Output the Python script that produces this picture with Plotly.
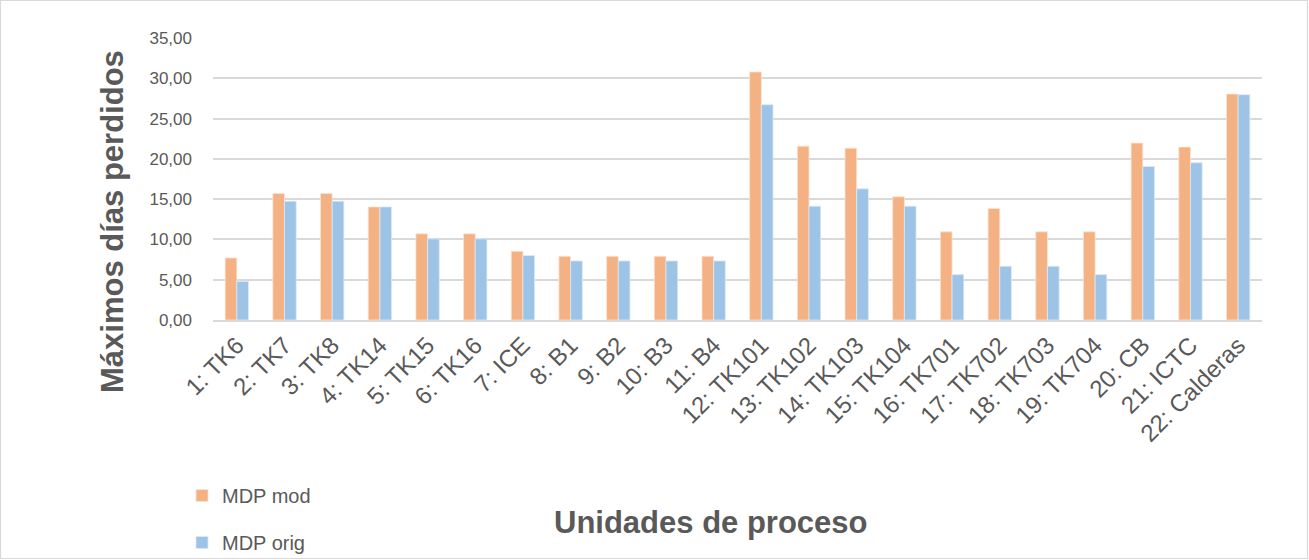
import plotly.graph_objects as go

categories = ["1: TK6", "2: TK7", "3: TK8", "4: TK14", "5: TK15", "6: TK16", "7: ICE",
              "8: B1", "9: B2", "10: B3", "11: B4", "12: TK101", "13: TK102", "14: TK103",
              "15: TK104", "16: TK701", "17: TK702", "18: TK703", "19: TK704", "20: CB",
              "21: ICTC", "22: Calderas"]
mdp_mod = [7.70, 15.70, 15.70, 14.04, 10.69, 10.69, 8.53, 7.91, 7.91, 7.91, 7.91,
           30.78, 21.58, 21.33, 15.29, 10.94, 13.84, 10.94, 10.94, 21.96, 21.46, 28.04]
mdp_orig = [4.80, 14.75, 14.75, 14.04, 10.07, 10.07, 8.00, 7.33, 7.33, 7.33, 7.33,
            26.72, 14.13, 16.28, 14.13, 5.63, 6.67, 6.67, 5.63, 19.06, 19.51, 27.96]
y_ticks = [0, 5, 10, 15, 20, 25, 30, 35]

W, H = 1309, 560
L, R, T, B = 213, 47, 38, 240
pw, ph = W - L - R, H - T - B

def px_x(p):
    return (p - L) / pw

def px_y(p):
    return (H - B - p) / ph

grey = "#595959"
fig = go.Figure()
fig.add_trace(go.Bar(x=categories, y=mdp_mod, name="MDP mod", legendgroup="a",
                     marker=dict(color="#F4B183", line=dict(color="#FBE3D2", width=0.8))))
fig.add_trace(go.Bar(x=categories, y=mdp_orig, name="MDP orig", legendgroup="b",
                     marker=dict(color="#9DC3E6", line=dict(color="#DCEAF6", width=0.8))))

fig.update_layout(
    width=W, height=H,
    margin=dict(l=L, r=R, t=T, b=B, autoexpand=False),
    paper_bgcolor="white", plot_bgcolor="white",
    separators=",.",
    barmode="group", bargap=0.51, bargroupgap=0,
    font=dict(family="Liberation Sans, Arial, sans-serif", color=grey),
    legend=dict(orientation="v", x=px_x(182), y=px_y(476), xanchor="left", yanchor="top",
                font=dict(size=20, color=grey, family="Liberation Sans, Arial"),
                tracegroupgap=18, bgcolor="rgba(0,0,0,0)"),
    xaxis=dict(tickangle=-45, tickfont=dict(size=24, color=grey), showgrid=False,
               showline=True, linecolor="#D9D9D9", linewidth=1.5, ticks=""),
    yaxis=dict(range=[0, 35], tickvals=y_ticks, tickformat=".2f",
               tickfont=dict(size=17, color=grey), gridcolor="#D9D9D9", gridwidth=1.5,
               zeroline=False, showline=False, ticks="", ticklabelstandoff=20),
    shapes=[dict(type="rect", xref="paper", yref="paper",
                 x0=px_x(0.5), x1=px_x(W - 1.5), y0=px_y(H - 1.5), y1=px_y(0.5),
                 line=dict(color="#D9D9D9", width=1.2), layer="below")],
    annotations=[
        dict(text="<b>Máximos días perdidos</b>", xref="paper", yref="paper",
             x=px_x(112), y=px_y(222), xanchor="center", yanchor="middle",
             textangle=-90, showarrow=False,
             font=dict(size=31, color=grey, family="Liberation Sans, Arial")),
        dict(text="<b>Unidades de proceso</b>", xref="paper", yref="paper",
             x=px_x(711), y=px_y(522), xanchor="center", yanchor="middle", showarrow=False,
             font=dict(size=31, color=grey, family="Liberation Sans, Arial")),
    ],
)

fig.write_html("out.html")
